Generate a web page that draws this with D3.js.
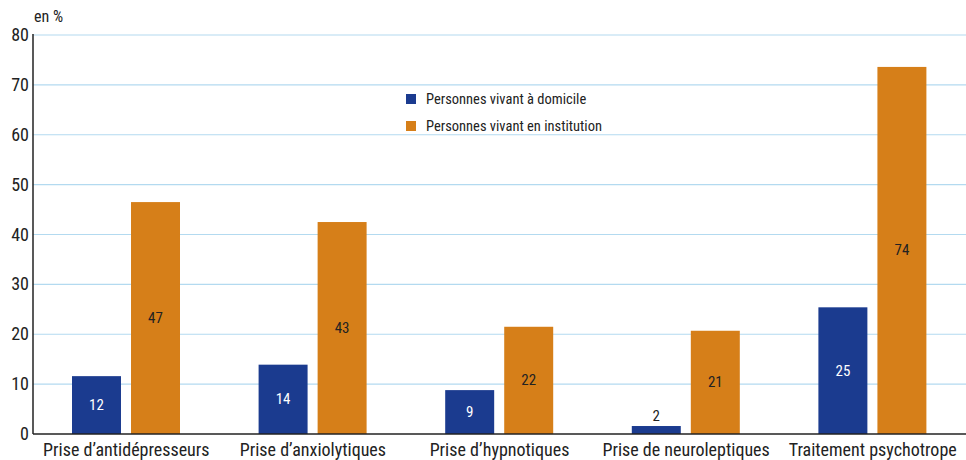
<!DOCTYPE html>
<html>
<head>
<meta charset="utf-8">
<script src="https://cdn.jsdelivr.net/npm/d3@7"></script>
<style>
  body { margin: 0; background: #fff; }
  svg text { font-family: "Liberation Sans Narrow", "Roboto Condensed", "Liberation Sans", sans-serif; }
</style>
</head>
<body>
<svg width="966" height="460"></svg>
<script>
// data
var categories = ["Prise d\u2019antid\u00e9presseurs", "Prise d\u2019anxiolytiques", "Prise d\u2019hypnotiques", "Prise de neuroleptiques", "Traitement psychotrope"];
var series = ["Personnes vivant \u00e0 domicile", "Personnes vivant en institution"];
var domicile = [11.6, 13.9, 8.8, 1.6, 25.4];
var institution = [46.5, 42.5, 21.5, 20.7, 73.6];
var domicileLabels = ["12", "14", "9", "2", "25"];
var institutionLabels = ["47", "43", "22", "21", "74"];
var yTicks = [0, 10, 20, 30, 40, 50, 60, 70, 80];

var colors = ["#1b3b8f", "#d67f19"];

var svg = d3.select("svg");
var plotLeft = 33, plotRight = 966, plotTop = 35, plotBottom = 434;

var x = d3.scaleBand().domain(categories).range([plotLeft, plotRight]);
var xInner = d3.scaleBand().domain(series).range([39, 147]).paddingInner(0.17);
var y = d3.scaleLinear().domain([0, 80]).range([plotBottom, plotTop]);

// gridlines
svg.append("g")
    .selectAll("line")
    .data(yTicks.filter(function (d) { return d > 0; }))
    .enter().append("line")
    .attr("x1", plotLeft).attr("x2", plotRight)
    .attr("y1", function (d) { return y(d); })
    .attr("y2", function (d) { return y(d); })
    .attr("stroke", "#b3daf0")
    .attr("stroke-width", 1.2);

// y tick labels
svg.append("g")
    .selectAll("text")
    .data(yTicks)
    .enter().append("text")
    .attr("x", plotLeft - 4)
    .attr("y", function (d) { return y(d) + 6; })
    .attr("text-anchor", "end")
    .attr("font-size", 18)
    .attr("fill", "#222")
    .text(function (d) { return d; });

svg.append("text")
    .attr("x", plotLeft + 1).attr("y", 22)
    .attr("font-size", 16).attr("fill", "#222")
    .text("en %");

// bars
var rows = categories.map(function (c, i) {
    return [
        { cat: c, s: series[0], v: domicile[i], label: domicileLabels[i], k: 0 },
        { cat: c, s: series[1], v: institution[i], label: institutionLabels[i], k: 1 }
    ];
});

var groups = svg.append("g")
    .selectAll("g")
    .data(rows)
    .enter().append("g")
    .attr("transform", function (d, i) { return "translate(" + x(categories[i]) + ",0)"; });

groups.selectAll("rect")
    .data(function (d) { return d; })
    .enter().append("rect")
    .attr("x", function (d) { return xInner(d.s); })
    .attr("width", xInner.bandwidth())
    .attr("y", function (d) { return y(d.v); })
    .attr("height", function (d) { return plotBottom - y(d.v); })
    .attr("fill", function (d) { return colors[d.k]; });

groups.selectAll("text")
    .data(function (d) { return d; })
    .enter().append("text")
    .attr("x", function (d) { return xInner(d.s) + xInner.bandwidth() / 2; })
    .attr("y", function (d) {
        if (plotBottom - y(d.v) < 20) return y(d.v) - 5;
        return (y(d.v) + plotBottom) / 2 + 5;
    })
    .attr("text-anchor", "middle")
    .attr("font-size", 15)
    .attr("fill", function (d) { return (d.k == 0 && plotBottom - y(d.v) >= 20) ? "#fff" : "#222"; })
    .text(function (d) { return d.label; });

// axes lines
svg.append("line")
    .attr("x1", plotLeft).attr("x2", plotLeft)
    .attr("y1", plotTop - 1).attr("y2", plotBottom)
    .attr("stroke", "#222").attr("stroke-width", 1.5);
svg.append("line")
    .attr("x1", plotLeft).attr("x2", plotRight)
    .attr("y1", plotBottom).attr("y2", plotBottom)
    .attr("stroke", "#222").attr("stroke-width", 1.5);

// category labels
svg.append("g")
    .selectAll("text")
    .data(categories)
    .enter().append("text")
    .attr("x", function (d) { return x(d) + x.bandwidth() / 2; })
    .attr("y", 456)
    .attr("text-anchor", "middle")
    .attr("font-size", 18)
    .attr("fill", "#222")
    .text(function (d) { return d; });

// legend
var legend = svg.append("g").attr("transform", "translate(406,94)");
legend.selectAll("rect")
    .data(series)
    .enter().append("rect")
    .attr("x", 0)
    .attr("y", function (d, i) { return i * 27; })
    .attr("width", 10).attr("height", 10)
    .attr("fill", function (d, i) { return colors[i]; });
legend.selectAll("text")
    .data(series)
    .enter().append("text")
    .attr("x", 20)
    .attr("y", function (d, i) { return i * 27 + 10; })
    .attr("font-size", 14.5)
    .attr("fill", "#222")
    .text(function (d) { return d; });
</script>
</body>
</html>
